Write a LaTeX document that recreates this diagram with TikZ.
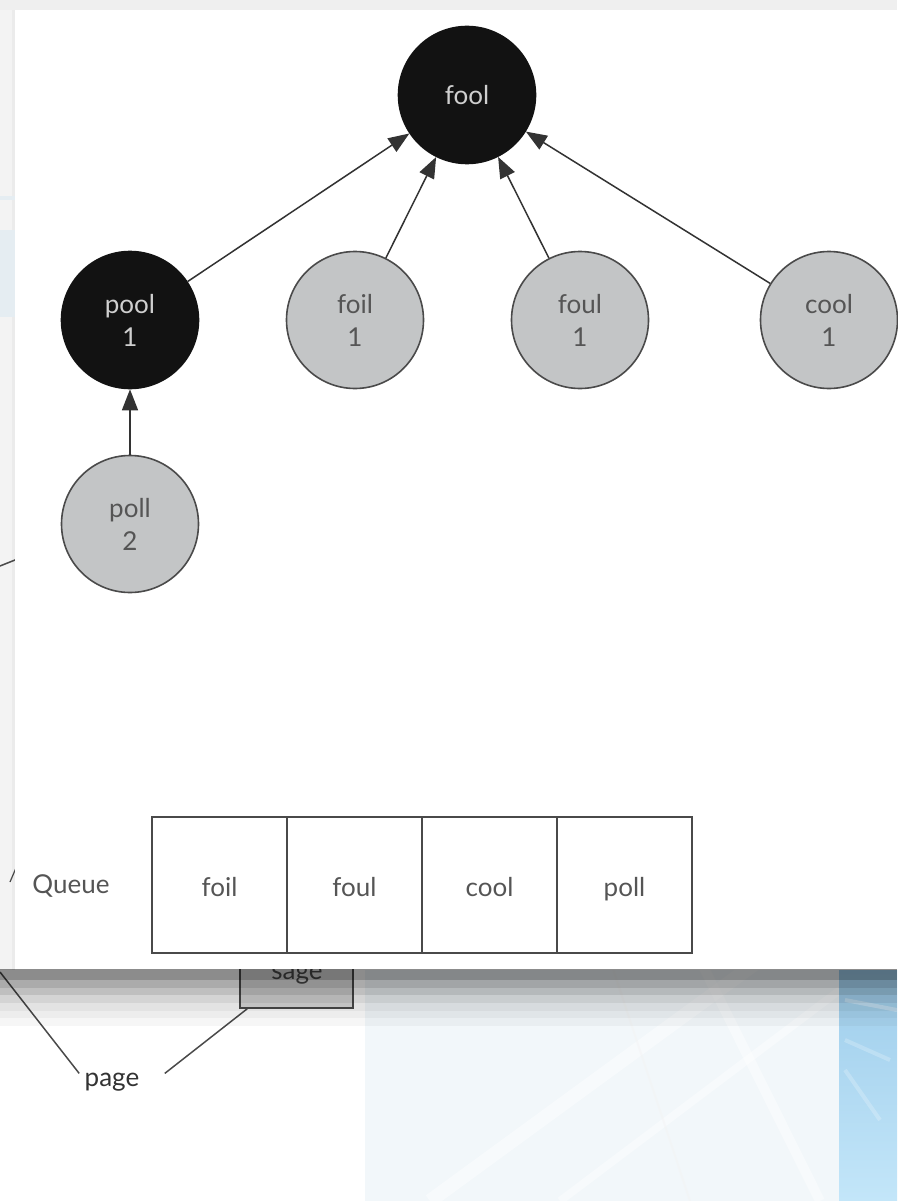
\documentclass[tikz,border=0pt]{standalone}
\usepackage{fontspec}
\setmainfont{Lato}
\usetikzlibrary{arrows.meta}
\definecolor{nodegrey}{HTML}{C3C5C6}
\definecolor{edgec}{HTML}{4A4A4A}
\definecolor{linkc}{HTML}{333333}
\definecolor{txtgrey}{HTML}{555555}
\definecolor{txtlight}{HTML}{CFCFCF}
\definecolor{nodeblack}{HTML}{121212}
\definecolor{stripgrey}{HTML}{F3F3F3}
\definecolor{topgrey}{HTML}{EFEFEF}
\definecolor{paleblue}{HTML}{E5EDF2}
\definecolor{midblue}{HTML}{F2F7FA}
\definecolor{skyA}{HTML}{9ECDEB}
\definecolor{skyB}{HTML}{C3E6F9}
\definecolor{sagefill}{HTML}{DADADA}
\begin{document}
\begin{tikzpicture}[x=1pt,y=-1pt,
  every node/.style={font=\fontsize{26}{33}\selectfont},
  greynode/.style={circle, draw=edgec, line width=1.6pt, fill=nodegrey, text=txtgrey,
    minimum size=137pt, inner sep=0pt, align=center},
  darknode/.style={circle, draw=nodeblack, line width=1.6pt, fill=nodeblack, text=txtlight,
    minimum size=137pt, inner sep=0pt, align=center},
  link/.style={-{Triangle[length=21pt,width=16pt]}, line width=1.5pt, draw=linkc, fill=linkc},
  cell/.style={draw=edgec, line width=1.8pt, minimum width=135pt, minimum height=136pt,
    inner sep=0pt, outer sep=0pt, text=txtgrey, text height=22pt, text depth=0pt},
  bgline/.style={draw=edgec, line width=1.5pt}
]
\useasboundingbox (0,0) rectangle (897,1201);
% ---------- background page ----------
\fill[white] (0,0) rectangle (897,1201);
\fill[topgrey] (0,0) rectangle (897,10);
\fill[stripgrey] (0,10) rectangle (15,970);
\fill[black!8] (12,10) rectangle (15,970);
\fill[paleblue] (0,196) rectangle (15,200);
\fill[paleblue] (0,230) rectangle (15,317);
\fill[midblue] (365,970) rectangle (839,1201);
\begin{scope}
  \clip (365,970) rectangle (839,1201);
  \draw[white, line width=14pt, opacity=0.45] (430,1201) -- (760,960);
  \draw[white, line width=8pt, opacity=0.4] (560,1201) -- (840,990);
  \draw[white, line width=10pt, opacity=0.4] (700,960) -- (820,1201);
  \draw[black!5, line width=2pt, opacity=0.4] (610,960) -- (690,1201);
\end{scope}
\shade[top color=skyA, bottom color=skyB] (839,970) rectangle (897,1201);
\begin{scope}
  \clip (839,970) rectangle (897,1201);
  \draw[white, line width=4pt, opacity=0.3] (845,1000) -- (897,1010);
  \draw[white, line width=4pt, opacity=0.22] (845,1040) -- (890,1060);
  \draw[white, line width=4pt, opacity=0.22] (845,1070) -- (880,1120);
\end{scope}
% ---------- partly hidden background drawing ----------
\node[draw=edgec, line width=1.5pt, fill=sagefill, minimum width=113pt, minimum height=80pt,
  inner sep=0pt] (sagebox) at (296.5,968) {};
\node[anchor=base, text=edgec] (sagetxt) at (297,979) {sage};
\node[text=black!80] (page) at (112,1082) {page};
\coordinate (lefthid) at (0,972);
\coordinate (upperhid) at (45,548);
\coordinate (upperfree) at (0,566);
\draw[bgline] (page.north west) ++(-2,4) coordinate (pageleft) -- (lefthid);
\draw[bgline] (page.north east) ++(22,4) coordinate (pageright) -- ([xshift=8pt]sagebox.south west);
\draw[bgline] (upperfree) -- (upperhid);
\coordinate (ticka) at (10,882);
\coordinate (tickb) at (16,868);
\draw[bgline, line width=1.2pt] (ticka) -- (tickb);
% ---------- window shadow ----------
\fill[black, opacity=0.45] (0,969) rectangle (897,980);
\fill[black, opacity=0.33] (0,980) rectangle (897,988);
\fill[black, opacity=0.25] (0,988) rectangle (897,995);
\fill[black, opacity=0.17] (0,995) rectangle (897,1003);
\fill[black, opacity=0.11] (0,1003) rectangle (897,1011);
\fill[black, opacity=0.07] (0,1011) rectangle (897,1018);
\fill[black, opacity=0.035] (0,1018) rectangle (897,1026);
% ---------- window ----------
\fill[white] (15,10) rectangle (897,969);
% ---------- tree ----------
\node[darknode] (fool) at (467,95) {fool};
\node[darknode] (pool) at (130,320) {pool\\1};
\node[greynode] (foil) at (355,320) {foil\\1};
\node[greynode] (foul) at (580,320) {foul\\1};
\node[greynode] (cool) at (829,320) {cool\\1};
\node[greynode] (poll) at (130,524) {poll\\2};
\draw[link] (pool) -- (fool);
\draw[link] (foil) -- (fool);
\draw[link] (foul) -- (fool);
\draw[link] (cool) -- (fool);
\draw[link] (poll) -- (pool);
% ---------- queue ----------
\node[text=txtgrey] (qlabel) at (71,886) {Queue};
\node[cell, anchor=west] (q1) at (152,885) {foil};
\node[cell, anchor=west] (q2) at (q1.east) {foul};
\node[cell, anchor=west] (q3) at (q2.east) {cool};
\node[cell, anchor=west] (q4) at (q3.east) {poll};
\end{tikzpicture}
\end{document}
